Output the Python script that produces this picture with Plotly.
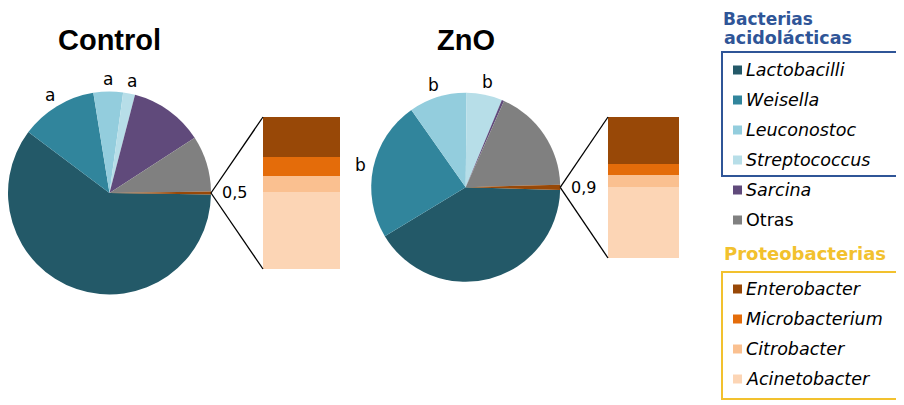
import math
import plotly.graph_objects as go

# ---------------- data ----------------
groups = ["Control", "ZnO"]
genera = ["Lactobacilli", "Weisella", "Leuconostoc", "Streptococcus",
          "Sarcina", "Otras", "Proteobacterias"]
control_pct = [60.0, 12.2, 4.7, 1.9, 11.8, 8.9, 0.5]
zno_pct = [40.9, 23.9, 9.9, 6.1, 0.4, 17.9, 0.9]
control_letters = ["", "a", "a", "a", "", "", ""]
zno_letters = ["", "b", "b", "b", "", "", ""]

proteo_genera = ["Enterobacter", "Microbacterium", "Citrobacter", "Acinetobacter"]
control_proteo = [26.3, 12.5, 10.5, 50.7]
zno_proteo = [33.4, 7.8, 8.3, 50.5]

pie_colors = ["#235968", "#31859C", "#93CDDD", "#B7DEE8", "#604A7B", "#808080", "#984807"]
bar_colors = ["#984807", "#E46C0A", "#FAC090", "#FCD5B5"]

lab_group_title = ["Bacterias", "acidolácticas"]
proteo_group_title = "Proteobacterias"
legend_italic = [True, True, True, True, True, False]

# ---------------- geometry (pixels of the 904x405 page) ----------------
# the page body has an 8px default margin, so the figure is offset by 8px
OFF = 8
W, H = 904 - OFF, 405 - OFF
def px(x):
    return min(1.0, max(0.0, (x - OFF) / W))
def py(y):
    return min(1.0, max(0.0, 1 - (y - OFF) / H))

pies = [
    dict(name=groups[0], vals=control_pct, letters=control_letters, proteo=control_proteo,
         cx=109.5, cy=193, r=101.5, bar=(263, 340, 117, 269)),
    dict(name=groups[1], vals=zno_pct, letters=zno_letters, proteo=zno_proteo,
         cx=465.7, cy=187.3, r=94.5, bar=(608, 679, 117, 258)),
]

fig = go.Figure()
shapes = []
annotations = []
TXT_FONT = "DejaVu Sans"

for k, p in enumerate(pies):
    vals = p["vals"]
    total = sum(vals)
    other_deg = vals[-1] / total * 360
    rotation = 90 + other_deg / 2
    fig.add_trace(go.Pie(
        values=vals, labels=genera, sort=False, direction="clockwise",
        rotation=rotation, marker=dict(colors=pie_colors, line=dict(width=0)),
        textinfo="none", showlegend=False, hoverinfo="label+value",
        domain=dict(x=[px(p["cx"] - p["r"]), px(p["cx"] + p["r"])],
                    y=[py(p["cy"] + p["r"]), py(p["cy"] - p["r"])]),
    ))
    # title
    annotations.append(dict(text="<b>%s</b>" % p["name"], x=px(p["cx"]), y=py(40),
                            xref="paper", yref="paper", showarrow=False,
                            xanchor="center", yanchor="middle",
                            font=dict(family="Liberation Sans", size=29, color="#000000")))
    # significance letters at slice mid-angles
    start = -other_deg / 2  # math angle (ccw from +x)
    cum = 0.0
    for v, letter in zip(vals, p["letters"]):
        mid = start - (cum + v / 2) / total * 360
        cum += v
        if letter:
            d = p["r"] + 13
            lx = p["cx"] + d * math.cos(math.radians(mid))
            ly = p["cy"] - d * math.sin(math.radians(mid))
            annotations.append(dict(text=letter, x=px(lx), y=py(ly), xref="paper", yref="paper",
                                    showarrow=False, xanchor="center", yanchor="middle",
                                    font=dict(family=TXT_FONT, size=17, color="#000000")))
    # value of the split slice
    annotations.append(dict(text=("%g" % vals[-1]).replace(".", ","),
                            x=px(p["cx"] + p["r"] + 9), y=py(p["cy"]),
                            xref="paper", yref="paper", showarrow=False,
                            xanchor="left", yanchor="middle",
                            font=dict(family=TXT_FONT, size=16, color="#000000")))
    # stacked bar of proteobacteria
    x0, x1, y0, y1 = p["bar"]
    xa = "x" if k == 0 else "x2"
    ya = "y" if k == 0 else "y2"
    for name, val, col in reversed(list(zip(proteo_genera, p["proteo"], bar_colors))):
        fig.add_trace(go.Bar(x=[0], y=[val], width=1, marker=dict(color=col, line=dict(width=0)),
                             name=name, showlegend=False, xaxis=xa, yaxis=ya))
    axsuffix = "" if k == 0 else "2"
    fig.update_layout(**{
        "xaxis" + axsuffix: dict(domain=[px(x0), px(x1)], range=[-0.5, 0.5], visible=False, fixedrange=True),
        "yaxis" + axsuffix: dict(domain=[py(y1), py(y0)], range=[0, sum(p["proteo"])], visible=False, fixedrange=True),
    })
    # connector lines
    ex, ey = p["cx"] + p["r"], p["cy"]
    for by in (y0, y1):
        shapes.append(dict(type="line", xref="paper", yref="paper",
                           x0=px(ex), y0=py(ey), x1=px(x0), y1=py(by),
                           line=dict(color="#000000", width=1.3)))

# ---------------- custom legend ----------------
BLUE = "#2F5597"
GOLD = "#F2C12E"
annotations.append(dict(text="<b>%s</b>" % lab_group_title[0], x=px(722), y=1.0, xref="paper", yref="paper",
                        showarrow=False, xanchor="left", yanchor="top", align="left", borderpad=0,
                        font=dict(family=TXT_FONT, size=17, color=BLUE)))
annotations.append(dict(text="<b>%s</b>" % lab_group_title[1], x=px(722), y=py(38), xref="paper", yref="paper",
                        showarrow=False, xanchor="left", yanchor="middle", align="left",
                        font=dict(family=TXT_FONT, size=17.5, color=BLUE)))
annotations.append(dict(text="<b>%s</b>" % proteo_group_title, x=px(722), y=py(253), xref="paper", yref="paper",
                        showarrow=False, xanchor="left", yanchor="middle", align="left",
                        font=dict(family=TXT_FONT, size=18, color=GOLD)))
shapes.append(dict(type="rect", xref="paper", yref="paper", x0=px(722), x1=px(897), y0=py(176), y1=py(52),
                   line=dict(color=BLUE, width=2), fillcolor="rgba(0,0,0,0)"))
shapes.append(dict(type="rect", xref="paper", yref="paper", x0=px(722), x1=px(897), y0=py(399), y1=py(272),
                   line=dict(color=GOLD, width=2), fillcolor="rgba(0,0,0,0)"))

legend_rows = []
for i, (g, c) in enumerate(zip(genera[:-1], pie_colors[:-1])):
    legend_rows.append((g, c, legend_italic[i], 70 + 30 * i))
for i, (g, c) in enumerate(zip(proteo_genera, bar_colors)):
    legend_rows.append((g, c, True, 289 + 30 * i))

for g, c, ital, yy in legend_rows:
    shapes.append(dict(type="rect", xref="paper", yref="paper",
                       x0=px(733), x1=px(742), y0=py(yy + 4.5), y1=py(yy - 4.5),
                       line=dict(width=0), fillcolor=c))
    annotations.append(dict(text=("<i>%s</i>" % g) if ital else g, x=px(744), y=py(yy),
                            xref="paper", yref="paper", showarrow=False,
                            xanchor="left", yanchor="middle",
                            font=dict(family=TXT_FONT, size=17.5, color="#000000")))

fig.update_layout(
    width=W, height=H, margin=dict(l=0, r=0, t=0, b=0),
    paper_bgcolor="#FFFFFF", plot_bgcolor="rgba(0,0,0,0)",
    barmode="stack", bargap=0, showlegend=False,
    shapes=shapes, annotations=annotations,
)

fig.write_html("out.html")
